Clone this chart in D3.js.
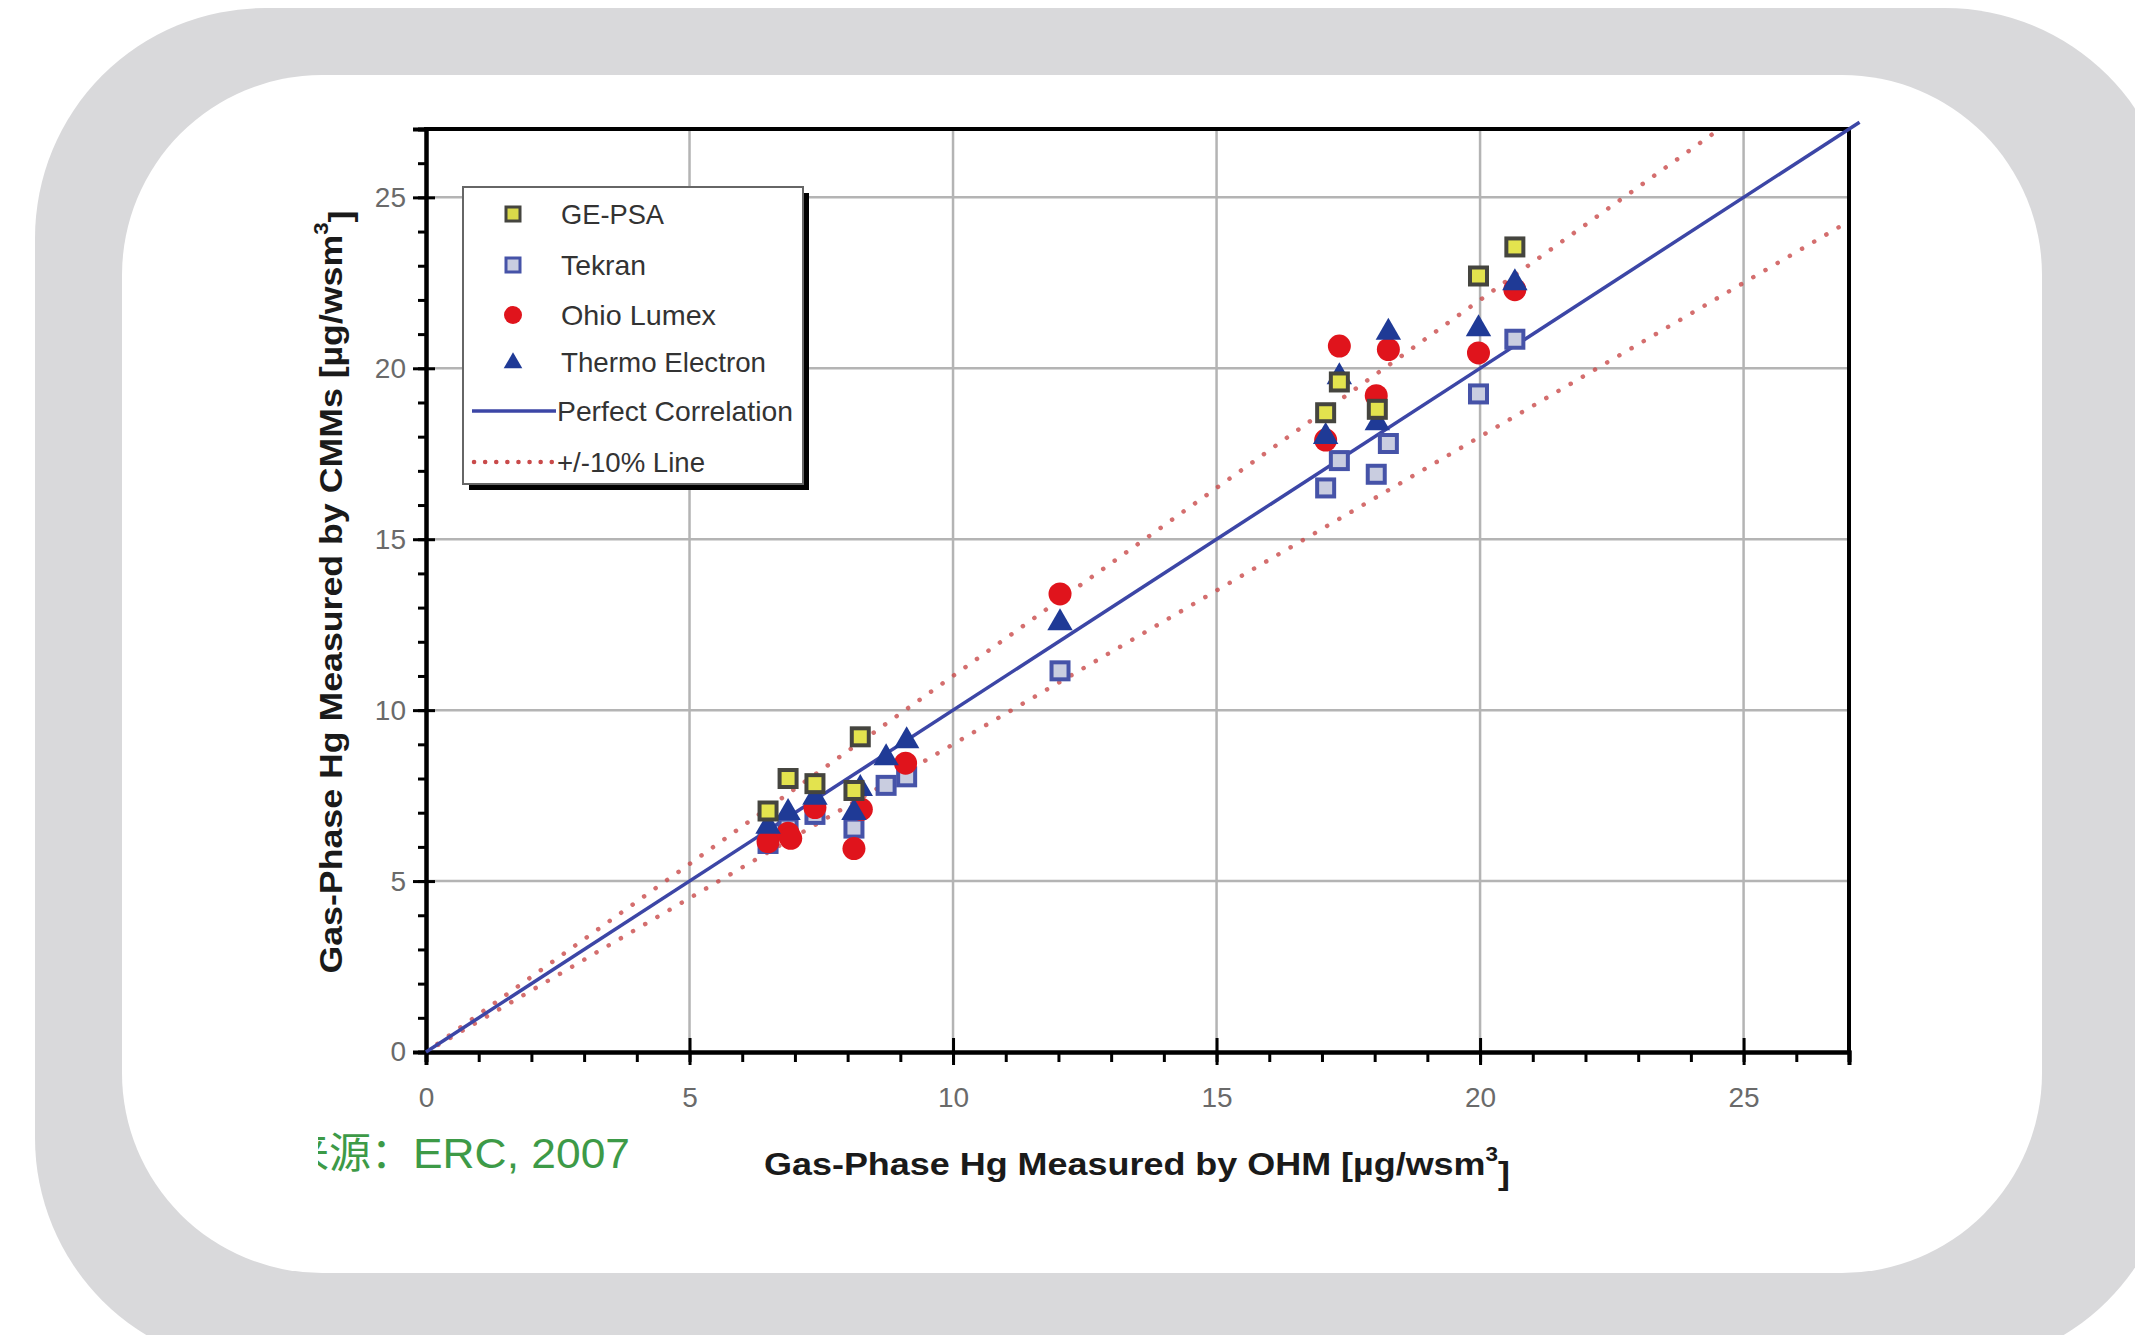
<!DOCTYPE html>
<html><head><meta charset="utf-8">
<script src="https://cdnjs.cloudflare.com/ajax/libs/d3/7.8.5/d3.min.js"></script>
<style>body{margin:0;background:#fff}svg{display:block}</style>
</head><body><div id="chart"></div>
<script>
// OHM value vs instrument value
const gePsa=[[6.49,7.05],[6.87,8.0],[7.38,7.85],[8.12,7.65],[8.24,9.22],[17.07,18.7],[17.33,19.6],[18.05,18.8],[19.97,22.7],[20.66,23.55]];
const tekran=[[6.49,6.1],[6.87,6.55],[7.38,6.95],[8.12,6.55],[8.73,7.8],[9.12,8.05],[12.03,11.15],[17.07,16.5],[17.33,17.3],[18.03,16.9],[18.26,17.8],[19.97,19.25],[20.66,20.85]];
const ohioLumex=[[6.49,6.15],[6.87,6.4],[6.92,6.25],[7.38,7.15],[8.12,5.95],[8.26,7.1],[9.1,8.45],[12.03,13.4],[17.07,17.9],[17.33,20.65],[18.03,19.2],[18.26,20.55],[19.97,20.45],[20.66,22.3]];
const thermo=[[6.49,6.6],[6.87,7.0],[7.38,7.45],[8.12,7.0],[8.24,7.7],[8.73,8.6],[9.12,9.1],[12.03,12.55],[17.07,18.0],[17.33,19.75],[18.05,18.4],[18.26,21.05],[19.97,21.15],[20.66,22.5]];
const majorTicks=[0,5,10,15,20,25];
const minorTicks=d3.range(0,28,1);
const legendLabels=["GE-PSA","Tekran","Ohio Lumex","Thermo Electron","Perfect Correlation","+/-10% Line"];

(function(){
  const W=2135,H=1335;
  const svg=d3.select("#chart").append("svg").attr("width",W).attr("height",H);
  const font="'Liberation Sans Narrow','Liberation Sans',Arial,sans-serif";

  // frame
  svg.append("rect").attr("x",35).attr("y",8).attr("width",2140).attr("height",1360)
    .attr("rx",230).attr("fill","#d9d9db");
  svg.append("rect").attr("x",122).attr("y",75).attr("width",1920).attr("height",1198)
    .attr("rx",200).attr("fill","#fff");

  const x=d3.scaleLinear().domain([0,27]).range([426,1849]);
  const y=d3.scaleLinear().domain([0,27]).range([1052,129]);
  const g=svg.append("g");

  // grid
  g.selectAll("line.gx").data(majorTicks.slice(1)).join("line")
    .attr("x1",d=>x(d)).attr("x2",d=>x(d)).attr("y1",y(0)).attr("y2",y(27))
    .attr("stroke","#b4b4b4").attr("stroke-width",2.5);
  g.selectAll("line.gy").data(majorTicks.slice(1)).join("line")
    .attr("y1",d=>y(d)).attr("y2",d=>y(d)).attr("x1",x(0)).attr("x2",x(27))
    .attr("stroke","#b4b4b4").attr("stroke-width",2.5);

  // +/-10% and 1:1 lines
  const line=d3.line().x(d=>x(d[0])).y(d=>y(d[1]));
  g.append("path").attr("d",line([[0,0],[27/1.1,27]]))
    .attr("stroke","#c94a4a").attr("stroke-width",4.5).attr("stroke-linecap","round")
    .attr("stroke-dasharray","0.1 14").attr("fill","none").attr("opacity",0.8);
  g.append("path").attr("d",line([[0,0],[27,27*0.9]]))
    .attr("stroke","#c94a4a").attr("stroke-width",4.5).attr("stroke-linecap","round")
    .attr("stroke-dasharray","0.1 14").attr("fill","none").attr("opacity",0.8);

  // axes
  const xa=g.append("g").attr("transform",`translate(0,${y(0)})`);
  xa.call(d3.axisBottom(x).tickValues(minorTicks).tickSize(10).tickFormat(""));
  const xb=g.append("g").attr("transform",`translate(0,${y(0)})`)
    .call(d3.axisBottom(x).tickValues(majorTicks).tickSize(13));
  xb.selectAll(".tick line").attr("y1",-14);
  xb.selectAll(".tick text").attr("y",45).attr("dy","0.35em");
  const ya=g.append("g").attr("transform",`translate(${x(0)},0)`);
  ya.call(d3.axisLeft(y).tickValues(minorTicks).tickSize(8).tickFormat(""));
  const yb=g.append("g").attr("transform",`translate(${x(0)},0)`)
    .call(d3.axisLeft(y).tickValues(majorTicks).tickSize(13));
  yb.selectAll(".tick line").attr("x1",9);
  yb.selectAll(".tick text").attr("x",-20);
  g.selectAll(".domain").attr("stroke","#000").attr("stroke-width",4);
  g.selectAll(".tick line").attr("stroke","#000").attr("stroke-width",3);
  g.selectAll(".tick text").attr("fill","#6a6a6a").style("font-family","'Liberation Sans',Arial,sans-serif").style("font-size","28px");
  g.append("line").attr("x1",x(0)-2).attr("x2",x(27)+2).attr("y1",y(27)).attr("y2",y(27)).attr("stroke","#000").attr("stroke-width",4);
  g.append("line").attr("x1",x(27)).attr("x2",x(27)).attr("y1",y(27)).attr("y2",y(0)).attr("stroke","#000").attr("stroke-width",4);

  g.append("path").attr("d",line([[0,0],[27.2,27.2]]))
    .attr("stroke","#3c46a6").attr("stroke-width",3.5).attr("fill","none");

  // markers
  const sq=(sel,data,fill,stroke,s)=>sel.selectAll(null).data(data).join("rect")
    .attr("x",d=>x(d[0])-s/2).attr("y",d=>y(d[1])-s/2).attr("width",s).attr("height",s)
    .attr("fill",fill).attr("stroke",stroke).attr("stroke-width",4);
  sq(g.append("g"),tekran,"#c9cde0","#4653a8",17);
  g.append("g").selectAll("circle").data(ohioLumex).join("circle")
    .attr("cx",d=>x(d[0])).attr("cy",d=>y(d[1])).attr("r",11.5).attr("fill","#e0141c");
  const tri=d3.symbol(d3.symbolTriangle,280);
  g.append("g").selectAll("path").data(thermo).join("path")
    .attr("transform",d=>`translate(${x(d[0])},${y(d[1])})`).attr("d",tri).attr("fill","#1f3a96");
  sq(g.append("g"),gePsa,"#e3e34e","#45453f",17);

  // legend
  const lg=svg.append("g");
  lg.append("rect").attr("x",469).attr("y",193).attr("width",340).attr("height",297).attr("fill","#000");
  lg.append("rect").attr("x",463).attr("y",187).attr("width",340).attr("height",297)
    .attr("fill","#fff").attr("stroke","#666").attr("stroke-width",2);
  const ly=[214,265,315,362,411,462], mx=513;
  lg.append("rect").attr("x",mx-7).attr("y",ly[0]-7).attr("width",14).attr("height",14)
    .attr("fill","#d9d94a").attr("stroke","#45453f").attr("stroke-width",3);
  lg.append("rect").attr("x",mx-7).attr("y",ly[1]-7).attr("width",14).attr("height",14)
    .attr("fill","#c9cde0").attr("stroke","#4653a8").attr("stroke-width",3);
  lg.append("circle").attr("cx",mx).attr("cy",ly[2]).attr("r",9).attr("fill","#e0141c");
  lg.append("path").attr("transform",`translate(${mx},${ly[3]+1})`).attr("d",d3.symbol(d3.symbolTriangle,150)).attr("fill","#1f3a96");
  lg.append("line").attr("x1",472).attr("x2",556).attr("y1",ly[4]).attr("y2",ly[4]).attr("stroke","#3c46a6").attr("stroke-width",3.5);
  lg.append("line").attr("x1",474).attr("x2",556).attr("y1",ly[5]).attr("y2",ly[5])
    .attr("stroke","#c94a4a").attr("stroke-width",4.5).attr("stroke-linecap","round").attr("stroke-dasharray","0.1 11");
  lg.selectAll("text").data(legendLabels).join("text")
    .attr("x",(d,i)=>i>=4?557:561).attr("y",(d,i)=>ly[i]).attr("dy","0.35em")
    .attr("fill","#333").style("font-family",font).style("font-size","28px")
    .attr("textLength",(d,i)=>[103,85,155,205,236,148][i]).attr("lengthAdjust","spacingAndGlyphs")
    .text(d=>d);

  // axis titles
  const xt=svg.append("text").attr("x",1137).attr("y",1164).attr("text-anchor","middle").attr("dy","0.35em")
    .attr("fill","#1a1a1a").style("font-family",font).style("font-weight","bold").style("font-size","32px")
    .attr("textLength",746).attr("lengthAdjust","spacingAndGlyphs");
  xt.append("tspan").text("Gas-Phase Hg Measured by OHM [µg/wsm");
  xt.append("tspan").attr("dy","-0.7em").style("font-size","20px").text("3");
  xt.append("tspan").attr("dy","0.7em").text("]");
  const yt=svg.append("text").attr("transform","translate(331,592) rotate(-90)").attr("text-anchor","middle").attr("dy","0.35em")
    .attr("fill","#1a1a1a").style("font-family",font).style("font-weight","bold").style("font-size","32px")
    .attr("textLength",763).attr("lengthAdjust","spacingAndGlyphs");
  yt.append("tspan").text("Gas-Phase Hg Measured by CMMs [µg/wsm");
  yt.append("tspan").attr("dy","-0.7em").style("font-size","20px").text("3");
  yt.append("tspan").attr("dy","0.7em").text("]");

  // source note, clipped at left as in the picture
  svg.append("defs").append("clipPath").attr("id","srcclip")
    .append("rect").attr("x",318).attr("y",1090).attr("width",400).attr("height",120);
  const src=svg.append("g").attr("clip-path","url(#srcclip)");
  src.append("text").attr("x",413).attr("y",1153).attr("text-anchor","end").attr("dy","0.35em")
    .attr("fill","#3d9a47").style("font-family","'Noto Sans CJK SC',sans-serif").style("font-size","42px")
    .text("来源：");
  src.append("text").attr("x",413).attr("y",1153).attr("dy","0.35em")
    .attr("fill","#3d9a47").style("font-family","'Liberation Sans',Arial,sans-serif").style("font-size","43px")
    .attr("textLength",217).attr("lengthAdjust","spacingAndGlyphs")
    .text("ERC, 2007");
})();
</script></body></html>
